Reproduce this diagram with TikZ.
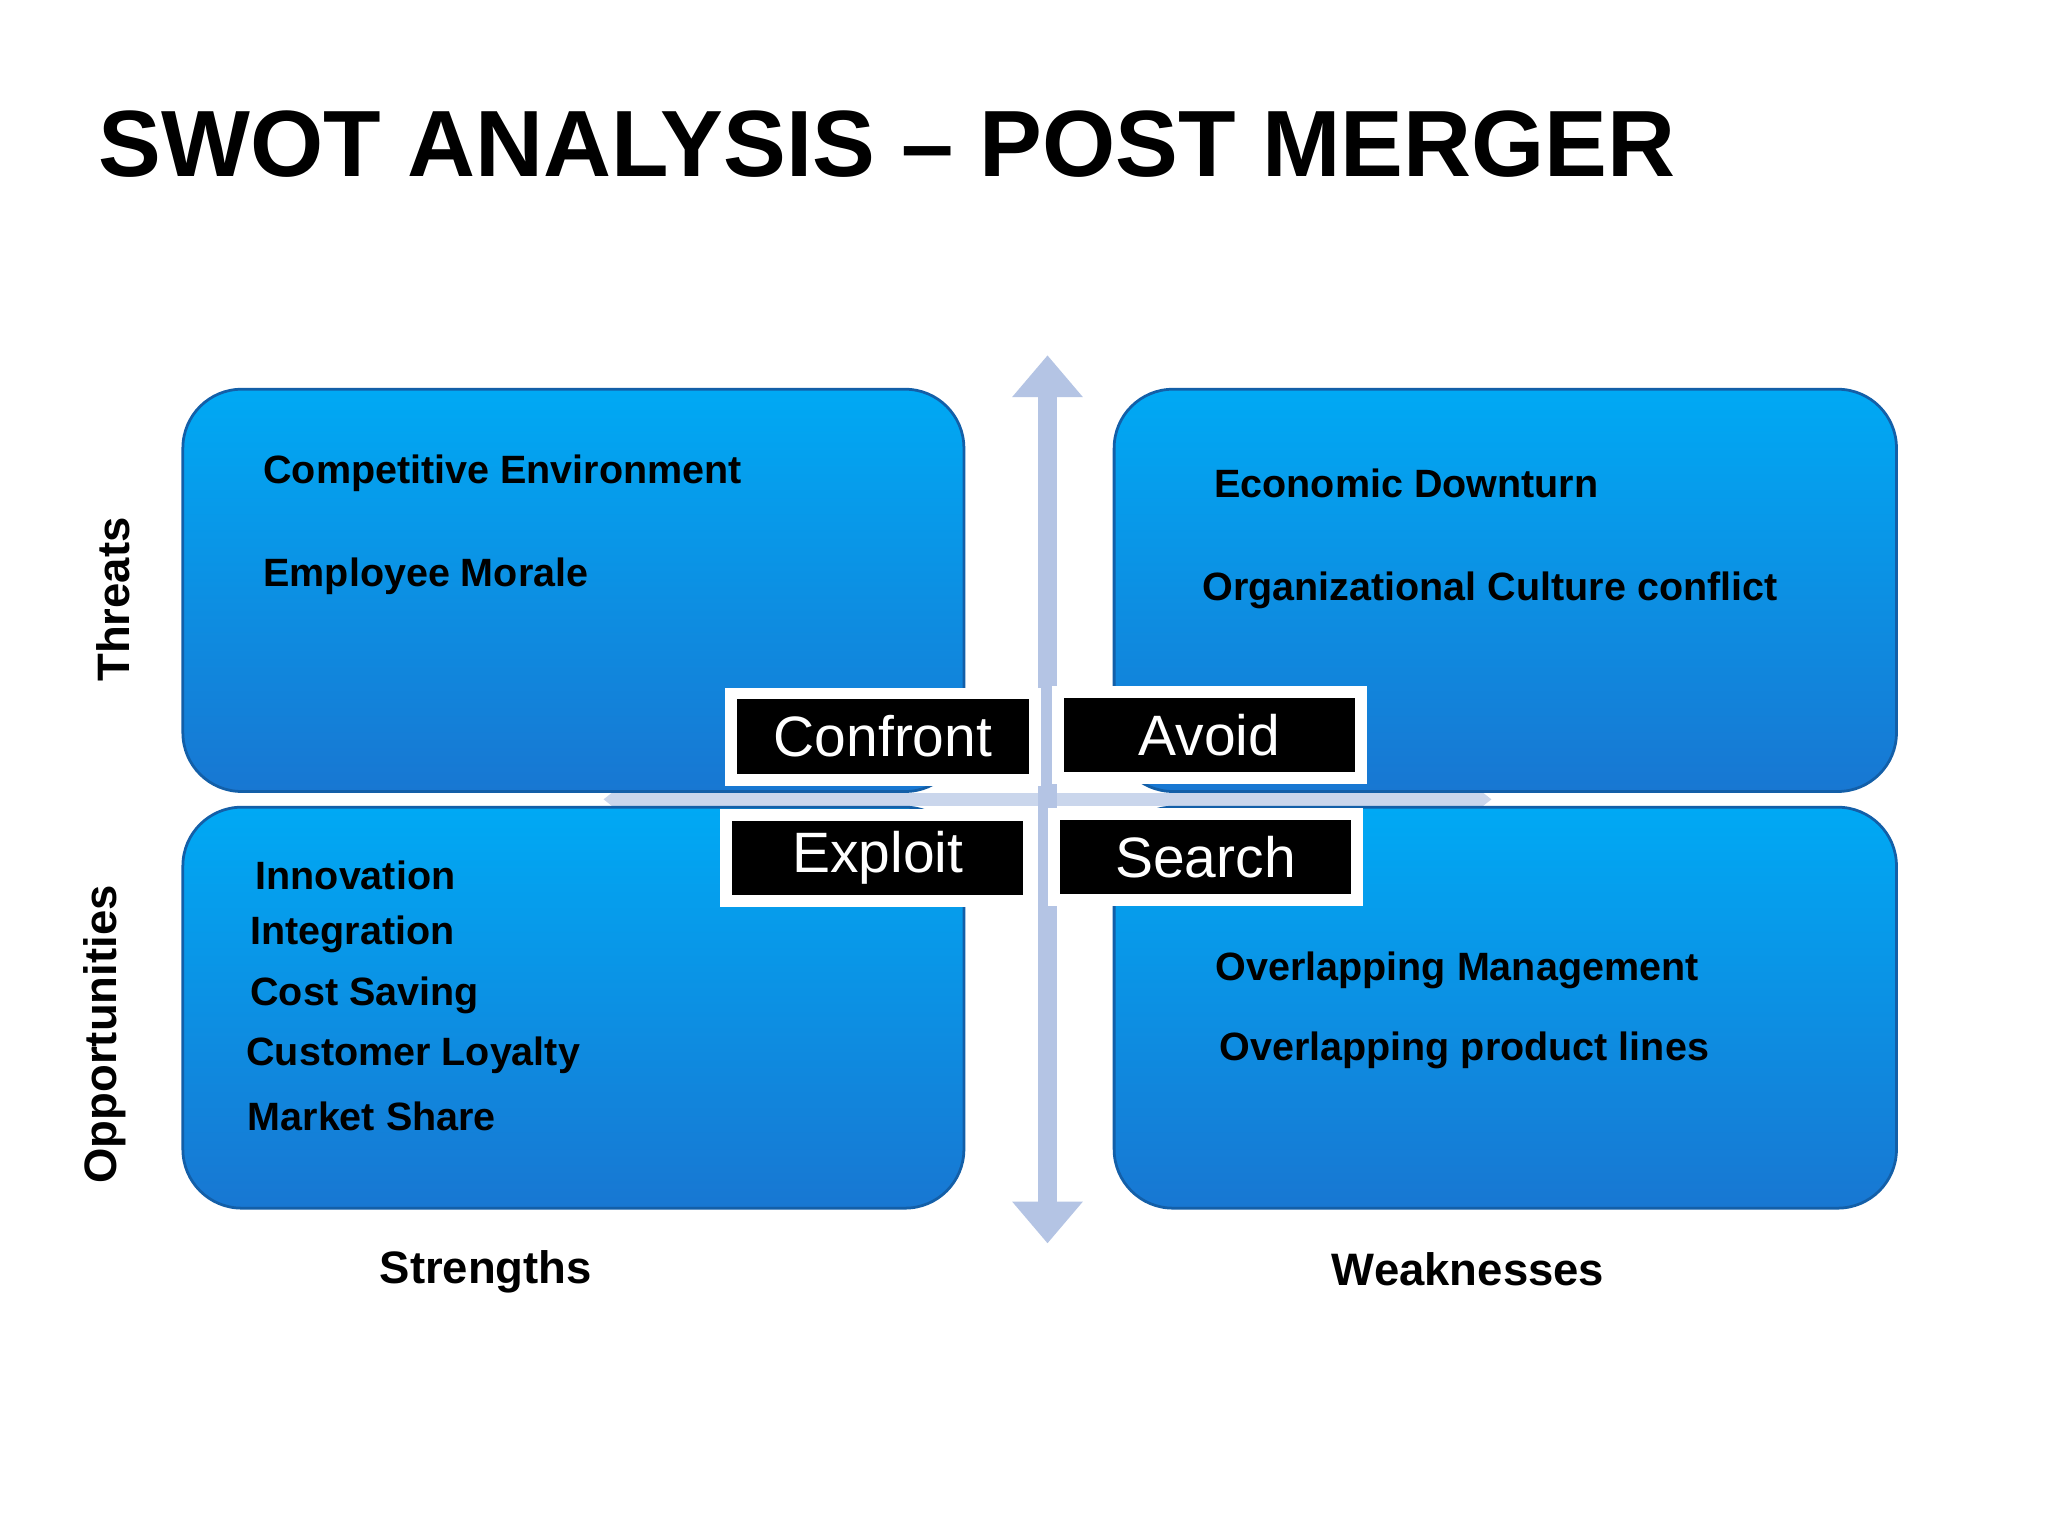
\documentclass[tikz,border=0pt]{standalone}
\usepackage{fontspec}
\setmainfont{Liberation Sans}
\usetikzlibrary{arrows.meta}
\definecolor{btop}{HTML}{00A9F4}
\definecolor{bbot}{HTML}{1877D2}
\definecolor{arr}{HTML}{B4C4E4}
\begin{document}
\begin{tikzpicture}[x=0.01cm,y=-0.01cm,
  quad/.style={rounded corners=0.45cm,top color=btop,bottom color=bbot,draw=bbot!80!black,line width=0.6pt},
  lab/.style={draw=white,line width=2.6pt,fill=black,text=white,font=\fontsize{12.4}{14}\selectfont,minimum width=2.32cm,minimum height=0.66cm,inner sep=0pt},
  it/.style={anchor=west,font=\bfseries\fontsize{8.6}{10}\selectfont,inner sep=0pt},
  ax/.style={font=\bfseries\fontsize{9.9}{12}\selectfont,inner sep=0pt}]
\useasboundingbox (0,0) rectangle (1568,1176);
\fill[white] (0,0) rectangle (1568,1176);
\node[anchor=west,inner sep=0pt,font=\bfseries\fontsize{20.5}{24}\selectfont] (title) at (75,110) {SWOT ANALYSIS – POST MERGER};
% axes
\coordinate (h1) at (462,612); \coordinate (h2) at (1142,612);
\draw[arr!70,line width=0.1cm,{Triangle[width=0.3cm,length=0.2cm]}-{Triangle[width=0.3cm,length=0.2cm]}] (h1) -- (h2);
\coordinate (v1) at (802,272); \coordinate (v2) at (802,952);
\draw[arr,line width=0.14cm,{Triangle[width=0.52cm,length=0.32cm]}-{Triangle[width=0.52cm,length=0.32cm]}] (v1) -- (v2);
% quadrants
\draw[quad] (140,298) rectangle (738,606);
\draw[quad] (853,298) rectangle (1452,606);
\draw[quad] (140,618) rectangle (738,925);
\draw[quad] (853,618) rectangle (1452,925);
% items
\node[it] (t1) at (201,362) {Competitive Environment};
\node[it] (t2) at (201,441) {Employee Morale};
\node[it] (w1) at (929,370) {Economic Downturn};
\node[it] (w2) at (920,452) {Organizational Culture conflict};
\node[it] (o1) at (195,670) {Innovation};
\node[it] (o2) at (191,715) {Integration};
\node[it] (o3) at (191,762) {Cost Saving};
\node[it] (o4) at (188,808) {Customer Loyalty};
\node[it] (o5) at (189,855) {Market Share};
\node[it] (s1) at (930,743) {Overlapping Management};
\node[it] (s2) at (933,804) {Overlapping product lines};
% labels
\node[lab] (c) at (676,564) {Confront};
\node[lab] (a) at (926,563) {Avoid};
\node[lab] (e) at (672,657) {Exploit};
\node[lab] (s) at (923,656) {Search};
% axis labels
\node[ax,rotate=90] (th) at (87,459) {Threats};
\node[ax,rotate=90] (op) at (80,792) {Opportunities};
\node[ax] (st) at (372,974) {Strengths};
\node[ax] (we) at (1124,972) {Weaknesses};
\end{tikzpicture}
\end{document}
